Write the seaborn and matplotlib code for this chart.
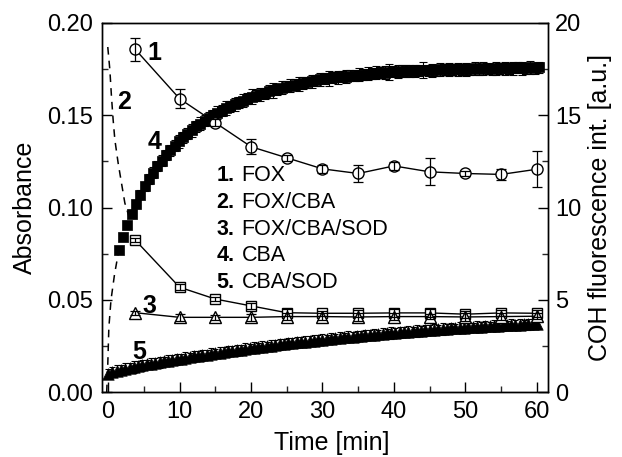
import numpy as np
import pandas as pd
import matplotlib
matplotlib.use("Agg")
import matplotlib.pyplot as plt
from matplotlib.ticker import MultipleLocator, FormatStrFormatter
import seaborn as sns

# ---------------- data ----------------
# discrete samples (absorbance, left axis)
SAMPLE_T = [3.8, 10, 15, 20, 25, 30, 35, 40, 45, 50, 55, 60]
FOX_A = [0.1857, 0.159, 0.146, 0.133, 0.127, 0.121, 0.1185, 0.1226, 0.1194, 0.1185, 0.118, 0.1208]
FOX_ERR = [0.0063, 0.005, 0.002, 0.004, 0.0015, 0.002, 0.0045, 0.002, 0.0074, 0.0015, 0.003, 0.0097]
FOXCBA_A = [0.0824, 0.0569, 0.0505, 0.0468, 0.0431, 0.0428, 0.0428, 0.043, 0.043, 0.0423, 0.043, 0.0428]
FOXCBA_ERR = [0.001, 0.0015, 0.001, 0.0015, 0.002, 0.0015, 0.002, 0.002, 0.002, 0.002, 0.0015, 0.002]
FOXCBASOD_A = [0.0431, 0.0406, 0.0406, 0.0406, 0.041, 0.041, 0.0408, 0.041, 0.041, 0.0408, 0.041, 0.0412]
FOXCBASOD_ERR = [0.001, 0.002, 0.0015, 0.002, 0.002, 0.002, 0.002, 0.002, 0.0015, 0.002, 0.002, 0.0015]

# dashed guide curves (absorbance)
DASH_UP_T = [-0.05, 0.24, 0.47, 0.7, 0.94, 1.4, 1.87, 2.34, 2.66, 3.0]
DASH_UP_A = [0.187, 0.1747, 0.160, 0.1476, 0.1368, 0.1242, 0.1133, 0.1025, 0.0985, 0.094]
DASH_LO_T = [-0.2, -0.05, 0.1, 0.4, 0.9, 1.5]
DASH_LO_A = [0.0, 0.015, 0.035, 0.05, 0.064, 0.077]

# continuous fluorescence recordings (right axis, a.u.)
CBA_T0 = 1.5
CBA_SOD_T0 = 0.0
SAMPLE_DT = 0.6
CBA_FL = [7.7, 8.4, 9.05, 9.65, 10.2, 10.7, 11.15, 11.55, 11.9, 12.25,
          12.55, 12.85, 13.1, 13.35, 13.6, 13.8, 14.0, 14.2, 14.4, 14.55,
          14.7, 14.85, 15.0, 15.15, 15.25, 15.4, 15.5, 15.6, 15.7, 15.8,
          15.9, 16.0, 16.05, 16.15, 16.2, 16.3, 16.35, 16.4, 16.5, 16.55,
          16.6, 16.65, 16.7, 16.75, 16.8, 16.85, 16.9, 16.95, 17.0, 17.0,
          17.05, 17.05, 17.1, 17.1, 17.15, 17.15, 17.2, 17.2, 17.25, 17.25,
          17.3, 17.3, 17.3, 17.35, 17.35, 17.35, 17.4, 17.4, 17.4, 17.4,
          17.45, 17.45, 17.45, 17.45, 17.45, 17.5, 17.5, 17.5, 17.5, 17.5,
          17.5, 17.5, 17.5, 17.55, 17.5, 17.55, 17.55, 17.5, 17.55, 17.55,
          17.55, 17.55, 17.55, 17.6, 17.55, 17.55, 17.6, 17.55, 17.6]
CBA_ERR = [0.15, 0.15, 0.2, 0.2, 0.2, 0.25, 0.25, 0.25, 0.3, 0.25,
           0.3, 0.25, 0.3, 0.3, 0.35, 0.3, 0.3, 0.35, 0.3, 0.35,
           0.3, 0.35, 0.3, 0.35, 0.3, 0.4, 0.3, 0.35, 0.3, 0.35,
           0.3, 0.4, 0.3, 0.35, 0.3, 0.35, 0.4, 0.3, 0.35, 0.3,
           0.35, 0.3, 0.4, 0.35, 0.3, 0.35, 0.3, 0.35, 0.3, 0.4,
           0.3, 0.35, 0.3, 0.35, 0.3, 0.3, 0.35, 0.3, 0.35, 0.3,
           0.35, 0.3, 0.35, 0.45, 0.3, 0.35, 0.3, 0.35, 0.3, 0.35,
           0.3, 0.45, 0.3, 0.35, 0.3, 0.35, 0.3, 0.35, 0.3, 0.35,
           0.3, 0.35, 0.3, 0.35, 0.3, 0.35, 0.3, 0.3, 0.35, 0.3,
           0.35, 0.3, 0.35, 0.3, 0.35, 0.3, 0.35, 0.3, 0.3]
CBA_SOD_FL = [1.0, 1.1, 1.17, 1.23, 1.28, 1.33, 1.37, 1.42, 1.47, 1.51,
              1.55, 1.59, 1.63, 1.67, 1.71, 1.75, 1.79, 1.83, 1.87, 1.9,
              1.94, 1.97, 2.01, 2.04, 2.08, 2.11, 2.15, 2.18, 2.21, 2.25,
              2.28, 2.31, 2.35, 2.38, 2.41, 2.44, 2.47, 2.5, 2.53, 2.56,
              2.59, 2.62, 2.65, 2.67, 2.7, 2.73, 2.75, 2.78, 2.8, 2.83,
              2.85, 2.88, 2.9, 2.93, 2.95, 2.97, 3.0, 3.02, 3.04, 3.06,
              3.09, 3.11, 3.13, 3.15, 3.17, 3.19, 3.21, 3.23, 3.25, 3.27,
              3.29, 3.31, 3.32, 3.34, 3.36, 3.38, 3.39, 3.41, 3.43, 3.44,
              3.46, 3.47, 3.49, 3.5, 3.52, 3.53, 3.54, 3.56, 3.57, 3.58,
              3.6, 3.61, 3.62, 3.63, 3.65, 3.66, 3.67, 3.68, 3.69, 3.7,
              3.71]
CBA_SOD_ERR = [0.25, 0.25, 0.3, 0.25, 0.3, 0.25, 0.3, 0.25, 0.3, 0.25,
               0.3, 0.25, 0.3, 0.25, 0.3, 0.25, 0.3, 0.25, 0.3, 0.25,
               0.3, 0.25, 0.3, 0.25, 0.3, 0.25, 0.3, 0.25, 0.3, 0.25,
               0.3, 0.25, 0.3, 0.25, 0.3, 0.25, 0.3, 0.25, 0.3, 0.25,
               0.3, 0.25, 0.3, 0.25, 0.3, 0.25, 0.3, 0.25, 0.3, 0.25,
               0.3, 0.25, 0.3, 0.25, 0.3, 0.25, 0.3, 0.25, 0.3, 0.25,
               0.3, 0.25, 0.3, 0.25, 0.3, 0.25, 0.3, 0.25, 0.3, 0.25,
               0.3, 0.25, 0.3, 0.25, 0.3, 0.25, 0.3, 0.25, 0.3, 0.25,
               0.3, 0.25, 0.3, 0.25, 0.3, 0.25, 0.3, 0.25, 0.3, 0.25,
               0.3, 0.25, 0.3, 0.25, 0.3, 0.25, 0.3, 0.25, 0.3, 0.25,
               0.3]

LEGEND_NUMS = ["1.", "2.", "3.", "4.", "5."]
LEGEND_NAMES = ["FOX", "FOX/CBA", "FOX/CBA/SOD", "CBA", "CBA/SOD"]
CURVE_TAGS = ["1", "2", "3", "4", "5"]

X_TICKS = [0, 10, 20, 30, 40, 50, 60]
LEFT_TICKS = [0.00, 0.05, 0.10, 0.15, 0.20]
RIGHT_TICKS = [0, 5, 10, 15, 20]

# ---------------- style ----------------
sns.set_theme(style="ticks")
plt.rcParams["font.family"] = ["Liberation Sans", "DejaVu Sans"]
plt.rcParams["axes.linewidth"] = 1.0

W, H = 622, 457
L, R, T, B = 101.7, 548.3, 23.0, 392.3
fig = plt.figure(figsize=(W / 100, H / 100), dpi=100)
ax = fig.add_axes([L / W, 1 - B / H, (R - L) / W, (B - T) / H])
ax2 = ax.twinx()
ax2.set_zorder(ax.get_zorder() - 1)
ax.patch.set_visible(False)

ax.set_xlim(-0.9, 61.6)
ax.set_ylim(0, 0.2)
ax2.set_ylim(0, 20)

# ---- fluorescence series (behind) ----
t_cba = np.round(CBA_T0 + SAMPLE_DT * np.arange(len(CBA_FL)), 2)
t_sod = np.round(CBA_SOD_T0 + SAMPLE_DT * np.arange(len(CBA_SOD_FL)), 2)
df4 = pd.DataFrame({"t": t_cba, "v": CBA_FL})
df5 = pd.DataFrame({"t": t_sod, "v": CBA_SOD_FL})

ax2.errorbar(t_cba, CBA_FL, yerr=CBA_ERR, fmt="none", ecolor="black",
             elinewidth=0.8, capsize=3.0, capthick=0.8)
ax2.errorbar(t_sod, CBA_SOD_FL, yerr=CBA_SOD_ERR, fmt="none", ecolor="black",
             elinewidth=0.8, capsize=2.0, capthick=0.8)
sns.scatterplot(data=df4, x="t", y="v", ax=ax2, marker="s", s=52,
                color="black", edgecolor="black", linewidth=0.5, legend=False)
sns.scatterplot(data=df5, x="t", y="v", ax=ax2, marker="^", s=68,
                color="black", edgecolor="black", linewidth=0.5, legend=False)
ax2.set_xlabel("")

# ---- dashed guides ----
ax.plot(DASH_UP_T, DASH_UP_A, color="black", lw=1.1, ls=(0, (5, 4)), zorder=1)
ax.plot(DASH_LO_T, DASH_LO_A, color="black", lw=1.1, ls=(0, (5, 4)), zorder=1)

# ---- absorbance series ----
for vals, err, mk, ms in [(FOX_A, FOX_ERR, "o", 8.0),
                          (FOXCBA_A, FOXCBA_ERR, "s", 7.5),
                          (FOXCBASOD_A, FOXCBASOD_ERR, "^", 9.0)]:
    d = pd.DataFrame({"t": SAMPLE_T, "a": vals})
    sns.lineplot(data=d, x="t", y="a", ax=ax, color="black", lw=1.0,
                 marker=mk, markersize=ms, markerfacecolor="white",
                 markeredgecolor="black", markeredgewidth=1.0, zorder=3,
                 legend=False)
    ax.errorbar(SAMPLE_T, vals, yerr=err, fmt="none", ecolor="black",
                elinewidth=0.9, capsize=3.5, capthick=0.9, zorder=4)

# ---- axes cosmetics ----
ax.set_xticks(X_TICKS)
ax.set_yticks(LEFT_TICKS)
ax2.set_yticks(RIGHT_TICKS)
ax.xaxis.set_minor_locator(MultipleLocator(5))
ax.yaxis.set_minor_locator(MultipleLocator(0.025))
ax2.yaxis.set_minor_locator(MultipleLocator(2.5))
ax.yaxis.set_major_formatter(FormatStrFormatter("%.2f"))

tick_kw = dict(direction="in", colors="black", labelsize=17, width=1.0)
ax.tick_params(axis="both", which="major", length=7, pad=6, **tick_kw)
ax.tick_params(axis="both", which="minor", length=4, direction="in", width=1.0)
ax.tick_params(axis="y", which="both", right=False)
ax.tick_params(axis="x", which="both", top=False)
ax2.tick_params(axis="y", which="major", length=7, pad=5, **tick_kw)
ax2.tick_params(axis="y", which="minor", length=4, direction="in", width=1.0)

for a in (ax, ax2):
    for sp in a.spines.values():
        sp.set_visible(True)
        sp.set_color("black")
        sp.set_linewidth(1.0)

ax.set_xlabel("Time [min]", fontsize=18, color="black")
ax.set_ylabel("Absorbance", fontsize=18, color="black")
ax2.set_ylabel("COH fluorescence int. [a.u.]", fontsize=18, color="black")
ax.xaxis.set_label_coords(0.515, -0.105)
ax.yaxis.set_label_coords(-0.145, 0.5)
ax2.yaxis.set_label_coords(1.09, 0.5)

# ---- curve tags & legend text (pixel positions -> axes fraction) ----
def fx(px):
    return (px - L) / (R - L)

def fy(py):
    return (B - py) / (B - T)

tag_pos = [(154, 53), (124, 102.5), (149, 306), (155, 142.5), (139, 352)]
for tag, (px, py) in zip(CURVE_TAGS, tag_pos):
    ax.text(fx(px), fy(py), tag, transform=ax.transAxes, fontsize=18,
            fontweight="bold", ha="center", va="center", color="black", zorder=6)

leg_y = [176, 203, 229.5, 256, 282]
for num, name, py in zip(LEGEND_NUMS, LEGEND_NAMES, leg_y):
    ax.text(fx(216.5), fy(py), num, transform=ax.transAxes, fontsize=15.5,
            fontweight="bold", ha="left", va="center", color="black", zorder=6)
    ax.text(fx(241.5), fy(py), name, transform=ax.transAxes, fontsize=15.5,
            ha="left", va="center", color="black", zorder=6)

fig.savefig("out.png", dpi=100)
